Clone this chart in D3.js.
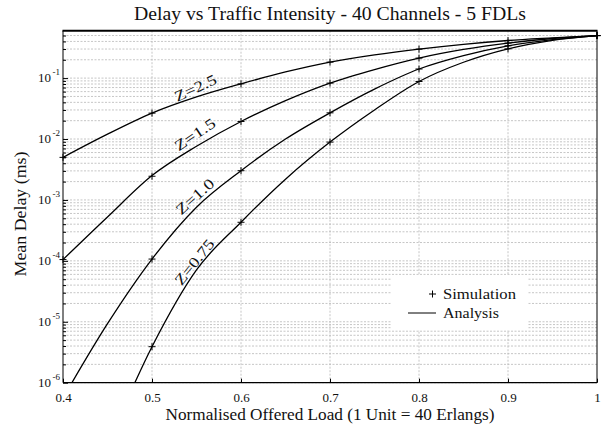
<!DOCTYPE html>
<html><head><meta charset="utf-8">
<script src="https://cdn.jsdelivr.net/npm/d3@7"></script>
<style>
html,body{margin:0;padding:0;background:#fff;}
svg{display:block;}
text{font-family:"Liberation Serif","Times New Roman",serif;fill:#111;}
</style></head>
<body><svg id="c" width="610" height="430"></svg>
<script>
// ---- data ----
const titleText = "Delay vs Traffic Intensity - 40 Channels - 5 FDLs";
const xLabelText = "Normalised Offered Load (1 Unit = 40 Erlangs)";
const yLabelText = "Mean Delay (ms)";
const xTicks = [0.4,0.5,0.6,0.7,0.8,0.9,1];
const xTickLabels = ["0.4","0.5","0.6","0.7","0.8","0.9","1"];
const yTicks = [1e-6,1e-5,1e-4,1e-3,1e-2,1e-1];
const yTickExp = ["-6","-5","-4","-3","-2","-1"];
const seriesNames = ["Z=2.5","Z=1.5","Z=1.0","Z=0.75"];
const loads = [0.4,0.45,0.5,0.55,0.6,0.65,0.7,0.75,0.8,0.85,0.9,0.95,1.0];
const anaZ25  = [5.0e-3,1.20e-2,2.66e-2,4.9e-2,8.05e-2,0.126,0.183,0.24,0.299,0.359,0.414,0.457,0.499];
const anaZ15  = [1.05e-4,5.25e-4,2.51e-3,7.6e-3,1.94e-2,4.27e-2,8.28e-2,0.138,0.213,0.295,0.376,0.447,0.499];
const anaZ10  = [5.6e-7,9.3e-6,1.07e-4,7.6e-4,3.02e-3,1.0e-2,2.69e-2,6.6e-2,0.141,0.234,0.339,0.427,0.499];
const anaZ075 = [2.5e-9,1.0e-7,3.9e-6,7.1e-5,4.3e-4,2.19e-3,8.9e-3,3.0e-2,8.8e-2,0.182,0.302,0.417,0.499];
const simLoads = [0.4,0.5,0.6,0.7,0.8,0.9,1.0];
const simZ25  = [5.0e-3,2.66e-2,8.05e-2,0.183,0.299,0.414,0.499];
const simZ15  = [1.05e-4,2.45e-3,1.94e-2,8.28e-2,0.213,0.376,0.499];
const simZ10  = [null,1.07e-4,3.02e-3,2.69e-2,0.141,0.339,0.499];
const simZ075 = [null,3.9e-6,4.3e-4,8.9e-3,8.8e-2,0.302,0.499];
const legendLabels = ["Simulation","Analysis"];

// ---- layout ----
const svg = d3.select("#c");
const L = 63, R = 597, T = 30.7, B = 382.7;
const x = d3.scaleLinear().domain([0.4,1]).range([L,R]);
const y = d3.scaleLog().domain([1e-6,0.6]).range([B,T]);

svg.append("defs").append("clipPath").attr("id","clip")
  .append("rect").attr("x",L).attr("y",T).attr("width",R-L).attr("height",B-T);

// grid
const grid = svg.append("g");
const minor = [];
for (let e=-6;e<=-1;e++) for (let m=1;m<=9;m++){ const v=m*Math.pow(10,e); if(v<=0.6) minor.push(v); }
grid.selectAll("line.h").data(minor).join("line")
  .attr("x1",L).attr("x2",R).attr("y1",d=>y(d)).attr("y2",d=>y(d))
  .attr("stroke","#b8b8b8").attr("stroke-width",0.8).attr("stroke-dasharray","2,1.5");
grid.selectAll("line.v").data(xTicks.slice(1,-1)).join("line")
  .attr("y1",T).attr("y2",B).attr("x1",d=>x(d)).attr("x2",d=>x(d))
  .attr("stroke","#b8b8b8").attr("stroke-width",0.8).attr("stroke-dasharray","2,1.5");

// legend background (white box)
const lg = svg.append("g");
lg.append("rect").attr("x",392).attr("y",275).attr("width",135).attr("height",55).attr("fill","#fff");

// axes (inward ticks)
const xAxisG = svg.append("g").attr("transform",`translate(0,${B})`)
  .call(d3.axisBottom(x).tickValues(xTicks).tickSize(-4).tickFormat((d,i)=>xTickLabels[i]).tickPadding(8));
xAxisG.select(".domain").remove();
xAxisG.selectAll("text").attr("font-size",13).attr("font-family","Liberation Serif").attr("fill","#222").attr("dy","0.85em");
xAxisG.selectAll(".tick line").attr("stroke","#000");

const yAxisG = svg.append("g").attr("transform",`translate(${L},0)`)
  .call(d3.axisLeft(y).tickValues(minor).tickSize(-3).tickFormat(""));
yAxisG.select(".domain").remove();
yAxisG.selectAll(".tick line").attr("stroke","#000");
// major tick labels 10^e
const yl = svg.append("g");
yTicks.forEach((v,i)=>{
  const t = yl.append("text").attr("x",L-3).attr("y",y(v)+4).attr("text-anchor","end").attr("font-size",13).attr("fill","#222");
  t.append("tspan").text("10");
  t.append("tspan").attr("dy",-7).attr("dx",1.5).attr("font-size",9).text(yTickExp[i]);
});
yAxisG.selectAll(".tick").filter(d=>yTicks.some(v=>Math.abs(v-d)/d<1e-6)).select("line").attr("x2",5);

// curves
const allAna = [anaZ25,anaZ15,anaZ10,anaZ075];
const line = d3.line().x(d=>x(d[0])).y(d=>y(d[1])).curve(d3.curveMonotoneX);
const curves = svg.append("g").attr("clip-path","url(#clip)");
allAna.forEach(arr=>{
  curves.append("path").datum(loads.map((l,i)=>[l,arr[i]]))
    .attr("d",line).attr("fill","none").attr("stroke","#000").attr("stroke-width",1.3);
});

// simulation markers
const allSim = [simZ25,simZ15,simZ10,simZ075];
const mk = svg.append("g");
const plus = (g,cx,cy,s)=>{
  g.append("line").attr("x1",cx-s).attr("x2",cx+s).attr("y1",cy).attr("y2",cy).attr("stroke","#000").attr("stroke-width",1);
  g.append("line").attr("x1",cx).attr("x2",cx).attr("y1",cy-s).attr("y2",cy+s).attr("stroke","#000").attr("stroke-width",1);
};
allSim.forEach(arr=>{
  arr.forEach((v,i)=>{ if(v!=null) plus(mk,x(simLoads[i]),y(v),3.5); });
});

// frame
const fr = svg.append("g");
fr.append("line").attr("x1",L).attr("x2",L).attr("y1",T).attr("y2",B).attr("stroke","#000").attr("stroke-width",1);
fr.append("line").attr("x1",R).attr("x2",R).attr("y1",T).attr("y2",B).attr("stroke","#000").attr("stroke-width",1);
fr.append("line").attr("x1",L).attr("x2",R).attr("y1",B).attr("y2",B).attr("stroke","#000").attr("stroke-width",1.2);
fr.append("line").attr("x1",L-0.5).attr("x2",R+0.5).attr("y1",T).attr("y2",T).attr("stroke","#000").attr("stroke-width",2);

// curve labels (centre x, centre y, angle, text length)
const labelPos = [[195.5,88,-25,45],[195,134.5,-34,46],[195,196.5,-42,46],[194.5,262,-51,54]];
seriesNames.forEach((n,i)=>{
  const p = labelPos[i];
  svg.append("text").attr("transform",`translate(${p[0]},${p[1]}) rotate(${p[2]})`)
    .attr("text-anchor","middle").attr("y",5)
    .attr("textLength",p[3]).attr("lengthAdjust","spacingAndGlyphs")
    .attr("font-size",15).attr("fill","#555").text(n);
});

// legend content
plus(lg,432.5,294,3.5);
lg.append("line").attr("x1",408).attr("x2",436).attr("y1",313).attr("y2",313).attr("stroke","#000").attr("stroke-width",1);
lg.append("text").attr("x",443).attr("y",299).attr("font-size",15.5).attr("textLength",73).attr("lengthAdjust","spacingAndGlyphs").text(legendLabels[0]);
lg.append("text").attr("x",443).attr("y",318).attr("font-size",15.5).attr("textLength",56).attr("lengthAdjust","spacingAndGlyphs").text(legendLabels[1]);

// titles
svg.append("text").attr("x",(L+R)/2).attr("y",20).attr("text-anchor","middle").attr("font-size",18.5)
  .attr("textLength",392).attr("lengthAdjust","spacingAndGlyphs").text(titleText);
svg.append("text").attr("x",(L+R)/2).attr("y",420).attr("text-anchor","middle").attr("font-size",16)
  .attr("textLength",329).attr("lengthAdjust","spacingAndGlyphs").text(xLabelText);
svg.append("text").attr("transform",`translate(26,214) rotate(-90)`).attr("text-anchor","middle").attr("font-size",16)
  .attr("textLength",125).attr("lengthAdjust","spacingAndGlyphs").text(yLabelText);
</script></body></html>
